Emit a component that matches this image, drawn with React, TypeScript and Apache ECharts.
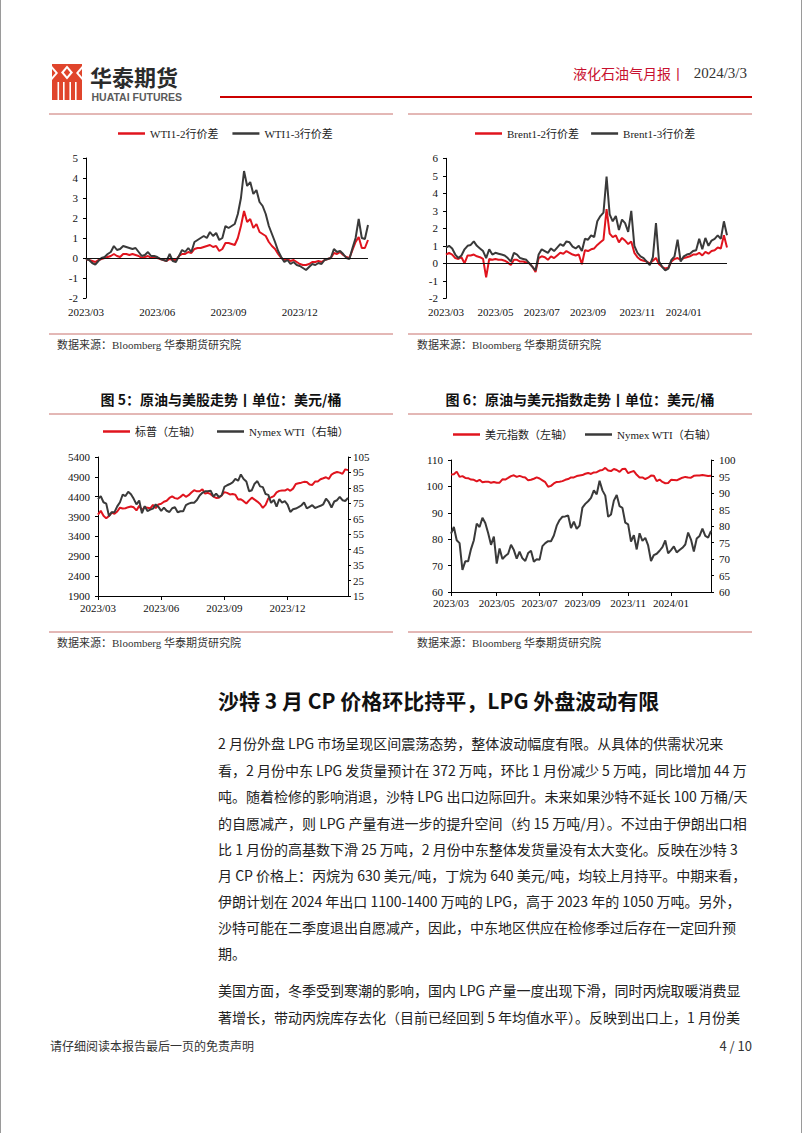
import React, { useEffect, useRef } from "react";
import * as echarts from "echarts";

// ---------- categories (dates every 4 days, 2023-03-01 .. 2024-02-28) ----------
const START_UTC = Date.UTC(2023, 2, 1);
const dates: string[] = Array.from({ length: 92 }, (_, i) =>
  new Date(START_UTC + i * 4 * 86400000).toISOString().slice(0, 10)
);

const ticksQuarter = ["2023/03", "2023/06", "2023/09", "2023/12"];
const ticksBimonth = ["2023/03", "2023/05", "2023/07", "2023/09", "2023/11", "2024/01"];

// ---------- series values ----------
const wti12 = [
  -0.05, -0.1, -0.15, -0.2, -0.1, -0.05, 0, 0.05, 0.1, 0.2,
  0.1, 0.05, 0.2, 0.2, 0.15, 0.2, 0.15, 0.1, 0, 0.05,
  0.1, 0, 0.05, 0, -0.05, -0.1, -0.15, -0.05, -0.1, -0.1,
  0.1, 0.2, 0.2, 0.3, 0.25, 0.45, 0.5, 0.5, 0.55, 0.6,
  0.65, 0.55, 0.6, 0.35, 0.45, 0.75, 0.75, 0.7, 0.65, 1.0,
  1.6, 2.35, 1.8, 1.95, 1.5, 1.7, 1.3, 1.2, 1.1, 0.8,
  0.6, 0.45, 0.2, 0, -0.1, -0.05, -0.15, -0.1, -0.2, -0.3,
  -0.35, -0.35, -0.3, -0.2, -0.2, -0.15, -0.2, -0.1, -0.05, 0,
  0.25, 0.2, 0.3, 0.15, 0.05, 0, 0.4, 0.8, 1.05, 0.5,
  0.5, 0.9,
];
const wti13 = [
  -0.05, -0.1, -0.25, -0.33, -0.15, 0, 0.05, 0.2, 0.3, 0.6,
  0.4, 0.45, 0.6, 0.55, 0.5, 0.45, 0.5, 0.3, 0.1, 0.15,
  0.3, 0.1, 0.1, 0.05, -0.05, -0.1, -0.15, 0.2, -0.15, -0.2,
  0.1, 0.4, 0.3, 0.5, 0.3, 0.8, 0.9, 1.0, 1.1, 1.0,
  1.3, 1.1, 1.25, 0.9, 1.0, 1.6, 1.5, 1.6, 1.7, 2.2,
  3.0, 4.35, 3.6, 3.8, 3.2, 3.4, 2.8, 2.6, 2.2, 1.6,
  1.2, 0.8, 0.35, 0.05, -0.2, -0.1, -0.3, -0.2, -0.35, -0.4,
  -0.5, -0.6, -0.45, -0.3, -0.35, -0.25, -0.3, -0.1, -0.05, 0,
  0.45, 0.3, 0.35, 0.2, 0, -0.05, 0.5, 1.0, 1.95, 1.0,
  0.95, 1.65,
];
const brent12 = [
  0.5, 0.6, 0.5, 0.3, 0.25, 0.35, 0, 0.45, 0.45, 0.5,
  0.4, 0.35, 0.25, -0.8, 0.25, 0.2, 0.25, 0.2, 0.2, 0.15,
  0.05, -0.1, 0.2, 0.2, 0.1, 0.1, 0.05, 0, -0.2, -0.5,
  0.3, 0.4, 0.35, 0.2, 0.4, 0.3, 0.45, 0.6, 0.55, 0.7,
  0.6, 0.5, 0.45, 0.5, -0.05, 0.75, 0.7, 0.8, 0.85, 1.05,
  1.2, 1.35, 3.1, 1.7, 1.5, 1.6, 1.2, 1.45, 1.3, 1.1,
  1.25, 0.6, 0.35, 0.2, 0.15, 0.1, 0, 0.15, 0.3, -0.05,
  -0.2, -0.3, -0.25, 0.1, 0.25, 0.3, 0.2, 0.3, 0.35, 0.4,
  0.5, 0.5, 0.6, 0.45, 0.65, 0.55, 0.7, 0.75, 0.9, 0.85,
  1.6, 0.9,
];
const brent13 = [
  0.9, 1.0, 0.85, 0.5, 0.3, 0.45, 0.8, 1.0, 1.05, 1.25,
  1.0, 0.85, 0.7, 0.3, 0.8, 0.5, 0.6, 0.55, 0.5, 0.45,
  0.3, 0.1, 0.6, 0.5, 0.3, 0.25, 0.2, 0, -0.2, -0.4,
  0.5, 0.8, 0.7, 0.6, 0.85, 0.7, 0.9, 1.1, 1.0, 1.25,
  1.2, 0.95, 0.85, 1.0, 0.7, 1.4, 1.35, 1.6, 1.5, 2.4,
  2.7, 2.9, 4.95, 2.8, 2.4, 2.7, 1.9, 2.5, 2.3, 1.8,
  3.0, 1.0, 0.6, 0.4, 0.3, 0.1, -0.1, 0.35, 2.3, 0.1,
  -0.2, -0.4, -0.3, 0.2, 0.4, 1.35, 0.1, 0.4, 0.5, 0.55,
  0.7, 0.75, 1.4, 0.8, 1.45, 1.0, 1.3, 1.4, 1.6, 1.4,
  2.4, 1.6,
];
const spx = [
  3950, 4045, 3920, 3855, 3917, 4002, 3971, 4027, 4124, 4105,
  4109, 4137, 4154, 4133, 4055, 4169, 4061, 4138, 4124, 4109,
  4191, 4115, 4205, 4221, 4273, 4298, 4369, 4409, 4365, 4348,
  4396, 4455, 4398, 4439, 4505, 4565, 4536, 4537, 4589, 4478,
  4499, 4464, 4404, 4370, 4376, 4433, 4515, 4496, 4457, 4467,
  4450, 4330, 4337, 4288, 4229, 4308, 4376, 4327, 4278, 4217,
  4117, 4194, 4358, 4383, 4415, 4508, 4547, 4559, 4554, 4594,
  4549, 4604, 4719, 4740, 4754, 4774, 4770, 4705, 4697, 4780,
  4784, 4840, 4865, 4891, 4846, 4959, 4998, 5022, 5006, 4976,
  5089, 5069,
];
const wti = [
  77.7, 79.7, 75.7, 74.8, 66.7, 69.3, 69.3, 73.0, 75.7, 80.7,
  79.7, 82.5, 80.9, 77.9, 74.3, 76.8, 68.6, 73.2, 70.0, 70.9,
  71.6, 74.3, 72.7, 70.1, 72.2, 70.2, 69.4, 71.8, 72.5, 69.2,
  69.9, 69.8, 73.9, 74.8, 75.4, 75.4, 77.1, 80.1, 81.8, 82.8,
  82.9, 83.2, 79.4, 81.3, 79.1, 80.1, 85.6, 86.7, 87.5, 88.5,
  90.8, 89.6, 93.7, 90.8, 89.2, 82.8, 83.5, 87.7, 89.4, 86.0,
  85.5, 81.0, 80.5, 75.3, 77.2, 72.9, 77.8, 75.5, 76.4, 74.1,
  69.4, 71.2, 71.6, 72.5, 73.6, 75.6, 71.7, 72.7, 73.8, 72.0,
  72.7, 73.4, 74.4, 78.0, 75.9, 72.3, 76.2, 77.0, 79.2, 77.0,
  76.5, 78.5,
];
const dxy = [
  104.5, 104.6, 105.6, 103.6, 103.9, 103.2, 103.1, 102.6, 102.5, 101.9,
  102.5, 101.6, 101.8, 101.8, 101.4, 101.7, 101.4, 101.4, 102.7, 102.6,
  103.2, 103.9, 104.2, 103.6, 104.0, 103.6, 103.4, 102.3, 102.5, 102.9,
  103.4, 103.0, 102.3, 101.6, 99.9, 100.2, 101.1, 101.7, 101.8, 102.0,
  102.5, 102.8, 103.4, 103.4, 103.9, 104.1, 104.3, 104.8, 105.1, 104.7,
  105.3, 105.4, 106.0, 106.2, 107.0, 106.0, 105.8, 106.6, 106.2, 105.5,
  106.6, 106.7, 105.0, 105.5, 105.8, 104.4, 103.4, 103.4, 102.8, 103.3,
  104.1, 104.0, 102.0, 102.6, 101.7, 101.2, 101.3, 102.5, 102.4, 102.3,
  102.8, 103.3, 103.6, 103.4, 103.3, 104.0, 104.1, 104.1, 104.3, 104.1,
  103.9, 104.0,
];

// ---------- page texts ----------
const bodyPara1 = [
  "2 月份外盘 LPG 市场呈现区间震荡态势，整体波动幅度有限。从具体的供需状况来",
  "看，2 月份中东 LPG 发货量预计在 372 万吨，环比 1 月份减少 5 万吨，同比增加 44 万",
  "吨。随着检修的影响消退，沙特 LPG 出口边际回升。未来如果沙特不延长 100 万桶/天",
  "的自愿减产，则 LPG 产量有进一步的提升空间（约 15 万吨/月）。不过由于伊朗出口相",
  "比 1 月份的高基数下滑 25 万吨，2 月份中东整体发货量没有太大变化。反映在沙特 3",
  "月 CP 价格上：丙烷为 630 美元/吨，丁烷为 640 美元/吨，均较上月持平。中期来看，",
  "伊朗计划在 2024 年出口 1100-1400 万吨的 LPG，高于 2023 年的 1050 万吨。另外，",
  "沙特可能在二季度退出自愿减产，因此，中东地区供应在检修季过后存在一定回升预",
  "期。",
];
const bodyPara2 = [
  "美国方面，冬季受到寒潮的影响，国内 LPG 产量一度出现下滑，同时丙烷取暖消费显",
  "著增长，带动丙烷库存去化（目前已经回到 5 年均值水平）。反映到出口上，1 月份美",
];

const RED = "#E0141E";
const BLACK = "#3A3A3A";
const SERIF = "'Liberation Serif','Times New Roman','Noto Sans CJK SC',serif";
const SANS = "'Noto Sans CJK SC','Noto Sans',sans-serif";
const SEP = "#C8706C";

const monthKey = (d: string) => d.slice(0, 4) + "/" + d.slice(5, 7);
const tickSet = (ticks: string[]) => {
  const s = new Set<number>();
  ticks.forEach((t) => {
    const i = dates.findIndex((d) => monthKey(d) === t);
    if (i >= 0) s.add(i);
  });
  return s;
};

function xAx(gridIndex: number, ticks: string[], showLine: boolean, margin: number) {
  const set = tickSet(ticks);
  const f = (i: number) => set.has(i);
  return {
    type: "category",
    gridIndex,
    data: dates,
    boundaryGap: false,
    axisLine: { show: showLine, onZero: false, lineStyle: { color: "#000", width: 1 } },
    axisTick: { show: showLine, interval: f, length: 4, lineStyle: { color: "#000" } },
    axisLabel: {
      interval: f,
      formatter: (v: string) => monthKey(v),
      margin,
      fontSize: 11,
      fontFamily: SERIF,
      color: "#111",
    },
    splitLine: { show: false },
  };
}

function yAx(
  gridIndex: number,
  min: number,
  max: number,
  interval: number,
  position: "left" | "right",
  margin: number
) {
  return {
    type: "value",
    gridIndex,
    position,
    min,
    max,
    interval,
    axisLine: { show: true, onZero: false, lineStyle: { color: "#000", width: 1 } },
    axisTick: { show: true, length: 3, lineStyle: { color: "#000" } },
    axisLabel: {
      margin,
      fontSize: 11,
      fontFamily: SERIF,
      color: "#111",
      formatter: (v: number) => String(v),
    },
    splitLine: { show: false },
  };
}

const lineSeries = (
  name: string,
  data: number[],
  color: string,
  xi: number,
  yi: number,
  extra: any = {}
) => ({
  type: "line",
  name,
  data,
  xAxisIndex: xi,
  yAxisIndex: yi,
  showSymbol: false,
  symbol: "none",
  lineStyle: { color, width: 2 },
  itemStyle: { color },
  ...extra,
});

const zeroLine = {
  silent: true,
  symbol: ["none", "none"],
  label: { show: false },
  lineStyle: { color: "#111", width: 1, type: "solid" },
  data: [{ yAxis: 0 }],
};

const legendCommon = {
  icon: "rect",
  itemWidth: 27,
  itemHeight: 2.5,
  padding: 0,
  selectedMode: false,
  textStyle: { fontSize: 11, fontFamily: SERIF, color: "#222" },
};

function txt(text: string, x: number, y: number, size: number, opts: any = {}) {
  const align = opts.align || "left";
  return {
    type: "text",
    x,
    y,
    silent: true,
    style: {
      text,
      fontSize: size,
      fontFamily: opts.family || SANS,
      fontWeight: opts.weight || "normal",
      fill: opts.fill || "#222",
      align,
      textAlign: align,
      verticalAlign: "middle",
      textVerticalAlign: "middle",
    },
  };
}
function hline(x1: number, x2: number, y: number, stroke: string, w: number) {
  return { type: "line", silent: true, shape: { x1, y1: y, x2, y2: y }, style: { stroke, lineWidth: w } };
}

const bodyY1 = [743, 769.5, 796, 822.5, 849, 875, 901, 927, 953];
const bodyY2 = [990, 1016.5];

const LOGO_RED = "#E0452C";
const graphics: any[] = [
  // page border
  { type: "line", silent: true, shape: { x1: 0.5, y1: 0, x2: 0.5, y2: 1133 }, style: { stroke: "#9a9a9a", lineWidth: 1 } },
  { type: "line", silent: true, shape: { x1: 801.5, y1: 0, x2: 801.5, y2: 1133 }, style: { stroke: "#9a9a9a", lineWidth: 1 } },
  // logo icon
  { type: "rect", silent: true, shape: { x: 52, y: 64, width: 30, height: 36 }, style: { fill: LOGO_RED } },
  { type: "polygon", silent: true, shape: { points: [[67, 65.5], [73, 72.5], [67, 79.5], [61, 72.5]] }, style: { fill: "#fff" } },
  { type: "polygon", silent: true, shape: { points: [[67, 68.5], [70.2, 72.5], [67, 76.5], [63.8, 72.5]] }, style: { fill: LOGO_RED } },
  { type: "polygon", silent: true, shape: { points: [[52, 66], [58, 73], [52, 80]] }, style: { fill: "#fff" } },
  { type: "polygon", silent: true, shape: { points: [[82, 66], [76, 73], [82, 80]] }, style: { fill: "#fff" } },
  { type: "polygon", silent: true, shape: { points: [[52, 69], [55.5, 73], [52, 77]] }, style: { fill: LOGO_RED } },
  { type: "polygon", silent: true, shape: { points: [[82, 69], [78.5, 73], [82, 77]] }, style: { fill: LOGO_RED } },
  { type: "rect", silent: true, shape: { x: 57.5, y: 82, width: 1.6, height: 18 }, style: { fill: "#fff" } },
  { type: "rect", silent: true, shape: { x: 63, y: 82, width: 1.6, height: 18 }, style: { fill: "#fff" } },
  { type: "rect", silent: true, shape: { x: 69.4, y: 82, width: 1.6, height: 18 }, style: { fill: "#fff" } },
  { type: "rect", silent: true, shape: { x: 75, y: 82, width: 1.6, height: 18 }, style: { fill: "#fff" } },
  txt("华泰期货", 90, 76, 22, { weight: "bold", fill: "#2b2b2b" }),
  txt("HUATAI FUTURES", 91.5, 97, 10.5, { weight: "bold", fill: "#5a5a5a", family: "'Liberation Sans',Arial,sans-serif" }),
  // header right
  txt("液化石油气月报", 573, 73, 14, { fill: "#C8102E" }),
  txt("丨", 678, 73, 14, { fill: "#C8102E", align: "center" }),
  txt("2024/3/3", 747, 73, 15, { fill: "#333", align: "right", family: SERIF }),
  hline(220, 752, 97, "#CC0000", 2),
  // separators top charts
  hline(49, 393, 114, SEP, 1),
  hline(408, 752, 114, SEP, 1),
  hline(49, 393, 334, SEP, 1),
  hline(408, 752, 334, SEP, 1),
  txt("数据来源：Bloomberg 华泰期货研究院", 57, 345, 11, { family: SERIF, fill: "#333" }),
  txt("数据来源：Bloomberg 华泰期货研究院", 417, 345, 11, { family: SERIF, fill: "#333" }),
  // titles of figures 5 & 6
  txt("图 5：原油与美股走势丨单位：美元/桶", 221, 398.5, 14, { weight: "bold", fill: "#111", align: "center" }),
  txt("图 6：原油与美元指数走势丨单位：美元/桶", 580, 398.5, 14, { weight: "bold", fill: "#111", align: "center" }),
  hline(49, 393, 414, SEP, 1),
  hline(408, 752, 414, SEP, 1),
  hline(49, 393, 632, SEP, 1),
  hline(408, 752, 632, SEP, 1),
  txt("数据来源：Bloomberg 华泰期货研究院", 57, 643, 11, { family: SERIF, fill: "#333" }),
  txt("数据来源：Bloomberg 华泰期货研究院", 417, 643, 11, { family: SERIF, fill: "#333" }),
  // heading + body
  txt("沙特 3 月 CP 价格环比持平，LPG 外盘波动有限", 218, 700, 21, { weight: "bold", fill: "#111" }),
  ...bodyPara1.map((s, i) => txt(s, 218, bodyY1[i], 14, { fill: "#222" })),
  ...bodyPara2.map((s, i) => txt(s, 218, bodyY2[i], 14, { fill: "#222" })),
  // footer
  txt("请仔细阅读本报告最后一页的免责声明", 50, 1045, 12, { fill: "#333" }),
  txt("4 / 10", 752, 1045, 13, { fill: "#333", align: "right" }),
];

const option: any = {
  animation: false,
  backgroundColor: "#fff",
  grid: [
    { left: 86, top: 158, width: 282, height: 140, containLabel: false, outerBoundsMode: "none" },
    { left: 446, top: 158.3, width: 281, height: 140, containLabel: false, outerBoundsMode: "none" },
    { left: 98, top: 457, width: 250, height: 139, containLabel: false, outerBoundsMode: "none" },
    { left: 451, top: 460, width: 260, height: 132, containLabel: false, outerBoundsMode: "none" },
  ],
  legend: [
    { ...legendCommon, left: 118, top: 128, itemGap: 14, data: ["WTI1-2行价差", "WTI1-3行价差"] },
    { ...legendCommon, left: 475, top: 128, itemGap: 12, data: ["Brent1-2行价差", "Brent1-3行价差"] },
    { ...legendCommon, left: 103, top: 426, itemGap: 16, data: ["标普（左轴）", "Nymex WTI（右轴）"] },
    { ...legendCommon, left: 453, top: 429, itemGap: 12, data: ["美元指数（左轴）", "Nymex WTI（右轴）"] },
  ],
  xAxis: [
    xAx(0, ticksQuarter, false, 8),
    xAx(1, ticksBimonth, false, 8),
    xAx(2, ticksQuarter, true, 6),
    xAx(3, ticksBimonth, true, 5),
  ],
  yAxis: [
    yAx(0, -2, 5, 1, "left", 8),
    yAx(1, -2, 6, 1, "left", 8),
    yAx(2, 1900, 5400, 500, "left", 8),
    yAx(2, 15, 105, 10, "right", 5),
    yAx(3, 60, 110, 10, "left", 8),
    yAx(3, 60, 100, 5, "right", 8),
  ],
  series: [
    lineSeries("WTI1-2行价差", wti12, RED, 0, 0, { markLine: zeroLine }),
    lineSeries("WTI1-3行价差", wti13, BLACK, 0, 0),
    lineSeries("Brent1-2行价差", brent12, RED, 1, 1, { markLine: zeroLine }),
    lineSeries("Brent1-3行价差", brent13, BLACK, 1, 1),
    lineSeries("标普（左轴）", spx, RED, 2, 2),
    lineSeries("Nymex WTI（右轴）", wti, BLACK, 2, 3),
    lineSeries("美元指数（左轴）", dxy, RED, 3, 4),
    lineSeries("Nymex WTI（右轴）", wti, BLACK, 3, 5),
  ],
  graphic: { elements: graphics },
};

export default function App() {
  const ref = useRef<HTMLDivElement>(null);
  useEffect(() => {
    const el = ref.current;
    if (!el) return;
    const chart = echarts.init(el, undefined, { renderer: "svg", width: 802, height: 1133 });
    chart.setOption(option);
    return () => chart.dispose();
  }, []);
  return (
    <div
      ref={ref}
      style={{ position: "absolute", left: 0, top: 0, width: 802, height: 1133, background: "#fff" }}
    />
  );
}
